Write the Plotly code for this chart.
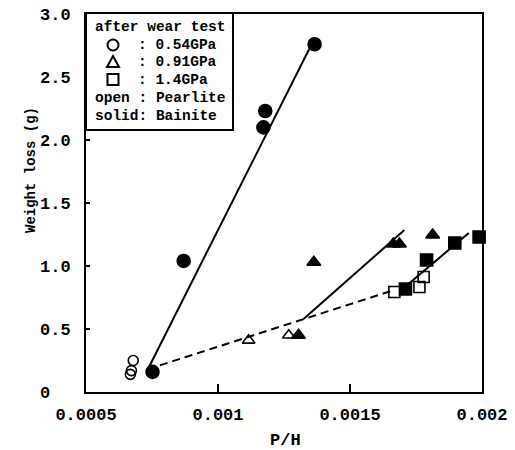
import plotly.graph_objects as go

# ---- data ----
circ_open_x = [0.000679, 0.000672, 0.000668]
circ_open_y = [0.25, 0.17, 0.14]
circ_solid_x = [0.000752, 0.000870, 0.001172, 0.001179, 0.001366]
circ_solid_y = [0.16, 1.04, 2.10, 2.23, 2.76]
tri_open_x = [0.001116, 0.001268]
tri_open_y = [0.41, 0.45]
tri_solid_x = [0.001305, 0.001363, 0.001664, 0.001687, 0.001813]
tri_solid_y = [0.45, 1.03, 1.175, 1.175, 1.246]
sq_open_x = [0.001668, 0.001763, 0.001779]
sq_open_y = [0.794, 0.833, 0.913]
sq_solid_x = [0.00171, 0.00179, 0.001897, 0.001989]
sq_solid_y = [0.817, 1.048, 1.183, 1.23]

fit054_x = [0.000733, 0.001359]
fit054_y = [0.175, 2.778]
fitdash_x = [0.000733, 0.001668]
fitdash_y = [0.18, 0.81]
fit091_x = [0.001324, 0.001706]
fit091_y = [0.579, 1.286]
fit14_x = [0.0017, 0.00195]
fit14_y = [0.82, 1.262]

x_tickvals = [0.0005, 0.001, 0.0015, 0.002]
x_ticktext = ["0.0005", "0.001", "0.0015", "0.002"]
y_tickvals = [0, 0.5, 1.0, 1.5, 2.0, 2.5, 3.0]
y_ticktext = ["0\u00a0\u00a0", "0.5", "1.0", "1.5", "2.0", "2.5", "3.0"]

legend_lines = ["after wear test", "open : Pearlite", "solid: Bainite"]
legend_vals = [": 0.54GPa", ": 0.91GPa", ": 1.4GPa"]

MONO = "Liberation Mono"

fig = go.Figure()

def line(x, y, dash="solid"):
    fig.add_trace(go.Scatter(x=x, y=y, mode="lines",
                             line=dict(color="black", width=2, dash=dash),
                             showlegend=False, hoverinfo="skip"))

line(fit054_x, fit054_y)
line(fitdash_x, fitdash_y, dash="8px,5px")
line(fit091_x, fit091_y)
line(fit14_x, fit14_y)

def pts(x, y, symbol, size):
    fig.add_trace(go.Scatter(x=x, y=y, mode="markers", cliponaxis=False,
                             marker=dict(symbol=symbol, size=size, color="black",
                                         line=dict(color="black", width=1.6)),
                             showlegend=False))

pts(circ_open_x, circ_open_y, "circle-open", 10)
pts(circ_solid_x, circ_solid_y, "circle", 13)
pts(tri_open_x, tri_open_y, "triangle-up-open", 11)
pts(tri_solid_x, tri_solid_y, "triangle-up", 12)
pts(sq_open_x, sq_open_y, "square-open", 11)
pts(sq_solid_x, sq_solid_y, "square", 12)

# ---- legend box drawn in paper coordinates ----
L, R, T, B = 86, 482, 14, 392
W, H = R - L, B - T
def px(xp):
    return (xp - L) / W
def py(yp):
    return (B - yp) / H

fig.add_shape(type="rect", xref="paper", yref="paper",
              x0=px(86), x1=px(233), y0=py(130), y1=py(13),
              line=dict(color="black", width=2), fillcolor="white", layer="above")

# legend symbols as outline shapes
sym_line = dict(color="black", width=2)
cx, r = 113, 5.5
fig.add_shape(type="circle", xref="paper", yref="paper", layer="above",
              x0=px(cx - r), x1=px(cx + r), y0=py(45 + r), y1=py(45 - r), line=sym_line)
ty = 62
fig.add_shape(type="path", xref="paper", yref="paper", layer="above", line=sym_line,
              path=f"M {px(cx - 6)},{py(ty + 5)} L {px(cx + 6)},{py(ty + 5)} L {px(cx)},{py(ty - 6)} Z")
sy = 79.5
fig.add_shape(type="rect", xref="paper", yref="paper", layer="above", line=sym_line,
              x0=px(cx - 5.5), x1=px(cx + 5.5), y0=py(sy + 5.5), y1=py(sy - 5.5))

lf = dict(family=MONO, size=14.5, color="black", weight="bold")
def txt(x, y, s, font=lf, xanchor="left"):
    fig.add_annotation(x=px(x), y=py(y), xref="paper", yref="paper", text=s,
                       showarrow=False, xanchor=xanchor, yanchor="middle", font=font)

txt(93, 27, legend_lines[0])
for i, v in enumerate(legend_vals):
    txt(136, 45 + i * 17.3, v)
txt(93, 98, legend_lines[1])
txt(93, 116, legend_lines[2])

# axis titles
fig.add_annotation(x=px(21), y=py(170), xref="paper", yref="paper",
                   text="Weight loss (g)", textangle=-90, showarrow=False,
                   font=dict(family=MONO, size=14, color="black", weight="bold"))
fig.add_annotation(x=px(285), y=py(441), xref="paper", yref="paper",
                   text="P/H", showarrow=False, yanchor="middle",
                   font=dict(family=MONO, size=17, color="black", weight="bold"))

tickfont = dict(family=MONO, size=17, color="black", weight="bold")

fig.update_layout(
    width=515, height=450,
    margin=dict(l=L, r=515 - R, t=T, b=450 - B, autoexpand=False),
    plot_bgcolor="white", paper_bgcolor="white",
    xaxis=dict(range=[0.0005, 0.002], tickvals=x_tickvals, ticktext=x_ticktext,
               ticks="inside", ticklen=8, tickwidth=2, tickcolor="black",
               showline=True, linecolor="black", linewidth=2, mirror=True, automargin=False,
               showgrid=False, zeroline=False, tickfont=tickfont, ticklabelstandoff=6),
    yaxis=dict(range=[0, 3.0], tickvals=y_tickvals, ticktext=y_ticktext,
               ticks="inside", ticklen=4, tickwidth=2, tickcolor="black",
               showline=True, linecolor="black", linewidth=2, mirror=True, automargin=False,
               showgrid=False, zeroline=False, tickfont=tickfont, ticklabelstandoff=10),
)

fig.write_html("out.html", config={"displayModeBar": False},
               post_script="document.body.style.margin='0';")
